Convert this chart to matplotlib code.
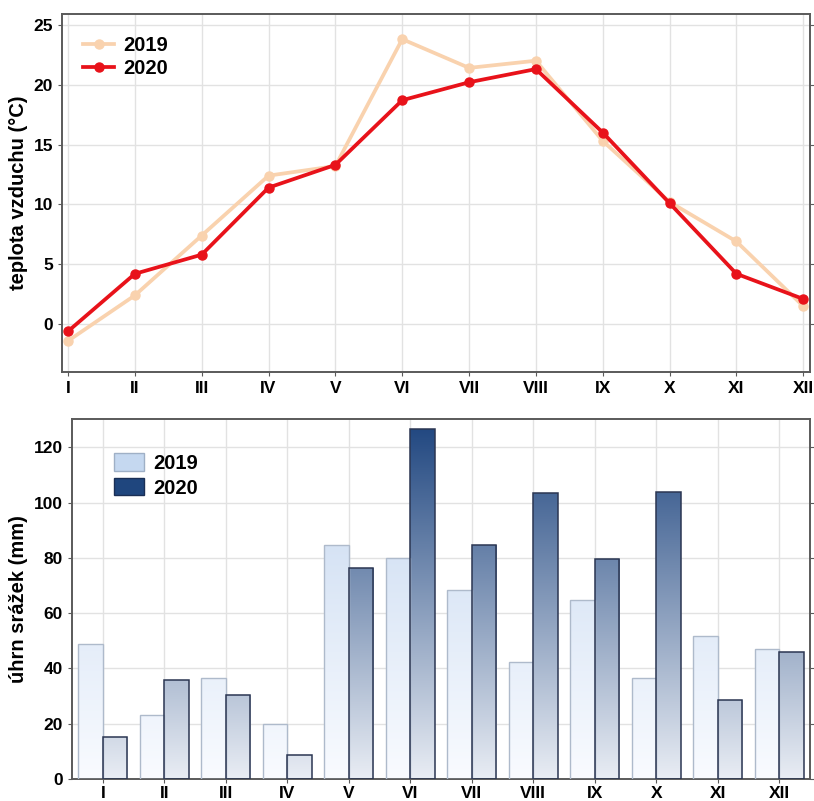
import numpy as np
import matplotlib
matplotlib.use("Agg")
import matplotlib.pyplot as plt
from matplotlib.colors import LinearSegmentedColormap
from matplotlib.patches import Patch
from matplotlib.lines import Line2D

months = ["I", "II", "III", "IV", "V", "VI", "VII", "VIII", "IX", "X", "XI", "XII"]
temp_2019 = [-1.4, 2.4, 7.4, 12.4, 13.2, 23.8, 21.4, 22.0, 15.3, 10.2, 6.9, 1.5]
temp_2020 = [-0.6, 4.2, 5.8, 11.4, 13.3, 18.7, 20.2, 21.3, 16.0, 10.1, 4.2, 2.1]
prec_2019 = [48.9, 23.3, 36.5, 19.9, 84.6, 80.0, 68.5, 42.3, 64.8, 36.5, 51.8, 47.0]
prec_2020 = [15.1, 35.9, 30.5, 8.7, 76.5, 126.8, 84.6, 103.6, 79.6, 103.9, 28.5, 46.0]
years = ["2019", "2020"]

plt.rcParams['font.family'] = ['Liberation Sans', 'DejaVu Sans']
plt.rcParams['font.weight'] = 'bold'

fig = plt.figure(figsize=(8.14, 8.01), dpi=100)
ax1 = fig.add_axes([0.0762, 0.5356, 0.9188, 0.4469])
ax2 = fig.add_axes([0.0885, 0.0275, 0.9065, 0.4494])

grid_col = "#e2e2e2"
spine_col = "#5a5a5a"
tick_fs = 12.5
leg_fs = 14.5
lab_fs = 14.5

# ---- Top: temperature
x = np.arange(len(months))
ax1.plot(x, temp_2019, color="#f9d2ae", lw=2.7, marker="o", ms=6.5, zorder=3)
ax1.plot(x, temp_2020, color="#e8121a", lw=2.7, marker="o", ms=6.5, zorder=4)
ax1.set_xlim(-0.09, 11.1)
ax1.set_ylim(-4.0, 25.9)
ax1.set_xticks(x)
ax1.set_xticklabels(months)
ax1.set_yticks([0, 5, 10, 15, 20, 25])
ax1.set_ylabel("teplota vzduchu (°C)", fontsize=lab_fs, fontweight='bold')
ax1.yaxis.set_label_coords(-0.0455, 0.5)
ax1.grid(True, color=grid_col, lw=1)
ax1.set_axisbelow(True)
ax1.tick_params(axis='both', labelsize=tick_fs, length=3, color=spine_col)
ax1.tick_params(axis='y', right=True, direction='out')
for s in ax1.spines.values():
    s.set_color(spine_col)
    s.set_linewidth(1.4)
h1 = [Line2D([], [], color="#f9d2ae", lw=2.7, marker="o", ms=6.5),
      Line2D([], [], color="#e8121a", lw=2.7, marker="o", ms=6.5)]
ax1.legend(h1, years, loc="upper left", frameon=False, fontsize=leg_fs,
           handlelength=1.55, handletextpad=0.45, labelspacing=0.2,
           bbox_to_anchor=(0.012, 0.972), borderaxespad=0.2)

# ---- Bottom: precipitation
ymax = 130.3
w = 0.4
cmap19 = LinearSegmentedColormap.from_list("c19", ["#f9fbff", "#c3d6ef"])
cmap20 = LinearSegmentedColormap.from_list("c20", ["#e9edf4", "#1d447e"])
grad = np.linspace(0, 1, 256).reshape(-1, 1)

b19 = ax2.bar(x - w / 2, prec_2019, width=w, facecolor="none",
              edgecolor="#aebacb", lw=1.0, zorder=3)
b20 = ax2.bar(x + w / 2, prec_2020, width=w, facecolor="none",
              edgecolor="#2b3652", lw=1.1, zorder=3)
for bars, cm in ((b19, cmap19), (b20, cmap20)):
    for p in bars:
        x0 = p.get_x()
        im = ax2.imshow(grad, extent=[x0, x0 + p.get_width(), 0, ymax],
                        cmap=cm, origin="lower", aspect="auto", zorder=2,
                        interpolation="bilinear")
        im.set_clip_path(p)

ax2.set_xlim(-0.5, 11.5)
ax2.set_ylim(0, ymax)
ax2.set_xticks(x)
ax2.set_xticklabels(months)
ax2.set_yticks([0, 20, 40, 60, 80, 100, 120])
ax2.set_ylabel("úhrn srážek (mm)", fontsize=lab_fs, fontweight='bold')
ax2.yaxis.set_label_coords(-0.0596, 0.5)
ax2.grid(True, color=grid_col, lw=1)
ax2.set_axisbelow(True)
ax2.tick_params(axis='both', labelsize=tick_fs, length=3, color=spine_col)
ax2.tick_params(axis='x', pad=2)
ax2.tick_params(axis='y', right=True, direction='out')
for s in ax2.spines.values():
    s.set_color(spine_col)
    s.set_linewidth(1.4)
h2 = [Patch(facecolor="#c5d8f0", edgecolor="#9fb0c6"),
      Patch(facecolor="#1f467e", edgecolor="#1a2f55")]
ax2.legend(h2, years, loc="upper left", frameon=False, fontsize=leg_fs,
           handlelength=1.5, handleheight=0.95, handletextpad=0.45,
           labelspacing=0.25, bbox_to_anchor=(0.04, 0.938), borderaxespad=0.2)

fig.savefig("out.png", dpi=100)
